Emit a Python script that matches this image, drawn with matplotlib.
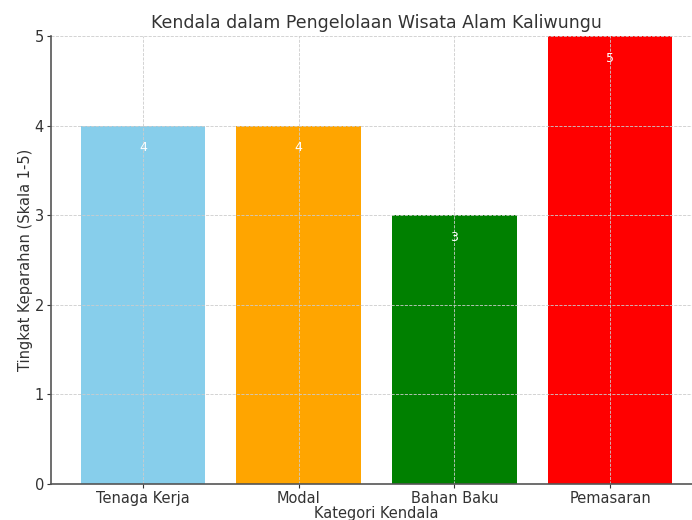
import matplotlib.pyplot as plt

categories = ['Tenaga Kerja', 'Modal', 'Bahan Baku', 'Pemasaran']
severity = [4, 4, 3, 5]
colors = ['skyblue', 'orange', 'green', 'red']

plt.rcParams['text.color'] = '#333333'
plt.rcParams['axes.labelcolor'] = '#333333'
plt.rcParams['xtick.color'] = '#333333'
plt.rcParams['ytick.color'] = '#333333'

fig = plt.figure(figsize=(6.92, 5.2), dpi=100)
ax = fig.add_axes([51/692, 1 - 484/520, (702-51)/692, (484-36)/520])

bars = ax.bar(categories, severity, color=colors, width=0.8)
for b, v in zip(bars, severity):
    ax.text(b.get_x() + b.get_width()/2, v - 0.25, str(v), ha='center', va='center',
            color='white', fontsize=9)

ax.set_ylim(0, 5)
ax.set_yticks([0, 1, 2, 3, 4, 5])
ax.set_title('Kendala dalam Pengelolaan Wisata Alam Kaliwungu', fontsize=12.5, pad=6)
ax.set_xlabel('Kategori Kendala', fontsize=10.5, labelpad=0)
ax.set_ylabel('Tingkat Keparahan (Skala 1-5)', fontsize=10.5, labelpad=1)
ax.tick_params(labelsize=10.5, length=3, pad=2)
ax.grid(True, linestyle='--', linewidth=0.6, color='#cccccc')
ax.spines['top'].set_visible(False)
ax.spines['right'].set_visible(False)
for s in ['left', 'bottom']:
    ax.spines[s].set_color('#555555')
    ax.spines[s].set_linewidth(1.2)

fig.savefig('out.png', dpi=100)
